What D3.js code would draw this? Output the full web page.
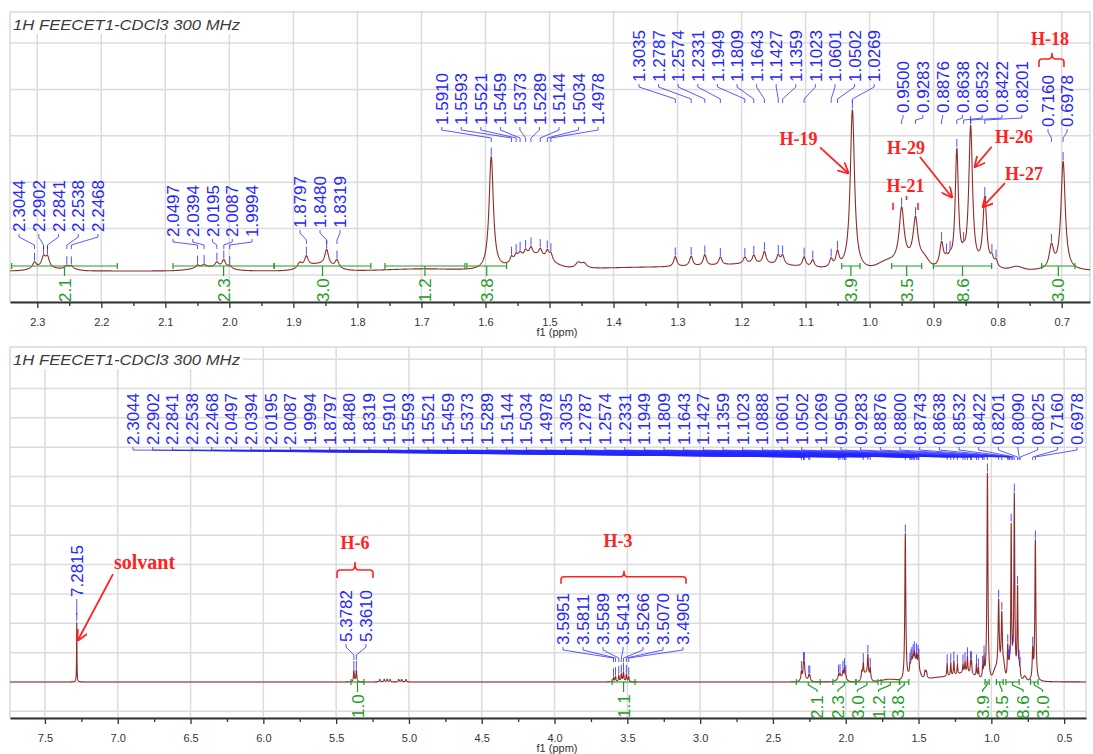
<!DOCTYPE html>
<html><head><meta charset="utf-8">
<script src="https://cdn.jsdelivr.net/npm/d3@7"></script>
<style>body{margin:0;background:#fff}svg{display:block}</style>
</head><body>
<svg id="c" width="1093" height="754"></svg>
<script>
// ---------------- DATA ----------------
const peakPpm = [2.3044,2.2902,2.2841,2.2538,2.2468,2.0497,2.0394,2.0195,2.0087,1.9994,1.8900,1.8797,1.8480,1.8319,
  1.5910,1.5593,1.5521,1.5459,1.5373,1.5289,1.5144,1.5034,1.4978,1.4550,1.4460,
  1.3035,1.2787,1.2574,1.2331,1.1949,1.1809,1.1643,1.1427,1.1359,1.1023,1.0888,1.0601,1.0502,1.0269,
  0.9500,0.9283,0.8876,0.8800,0.8743,0.8638,0.8532,0.8422,0.8201,0.8090,0.8025,0.7160,0.6978,
  7.2815,5.3782,5.3610,5.2000,5.1700,5.1500,5.1300,5.0700,5.0500,5.0200,
  3.5951,3.5811,3.5589,3.5413,3.5266,3.5070,3.4905];
const peakHeight = [3.7,6.2,6.2,1.9,1.9,1.9,1.9,3.1,4.9,1.9,3.4,6.2,9.6,4.9,
  70,3.6,3.6,3.6,3.6,4.6,4.3,4.8,4.3,3.5,3.0,
  6.2,6.2,6.8,4.9,4.0,5.0,7.5,5.5,5.5,6.0,4.5,5.0,9.0,99,
  33,27,15,4,4,72,4,87,43,5,4,14,67,
  28.6,5.5,5.5,1.2,1.2,1.2,1.2,1.2,1.2,1.2,
  2.0,2.5,3.0,3.5,4.5,3.5,2.5];
const peakWidth = [0.007,0.007,0.007,0.007,0.007,0.007,0.007,0.007,0.007,0.007,0.008,0.007,0.007,0.007,
  0.008,0.006,0.006,0.006,0.006,0.006,0.006,0.006,0.006,0.01,0.01,
  0.006,0.006,0.006,0.006,0.006,0.006,0.006,0.006,0.006,0.006,0.006,0.006,0.006,0.008,
  0.009,0.009,0.007,0.006,0.006,0.006,0.006,0.007,0.007,0.006,0.006,0.008,0.008,
  0.003,0.007,0.007,0.008,0.008,0.008,0.008,0.008,0.008,0.008,
  0.007,0.007,0.007,0.007,0.007,0.007,0.007];
// broad humps under the multiplets
const humpPpm    = [2.29,2.25,2.03,1.86,1.70,1.525,1.33,1.17,0.975,0.94,0.915,0.77];
const humpHeight = [2.0,1.0,2.2,4.0,1.2,9.0,2.3,3.5,3.5,5.0,4.0,2.0];
const humpWidth  = [0.04,0.03,0.06,0.05,0.12,0.06,0.25,0.14,0.03,0.05,0.015,0.02];

// peak labels
const topLabelGroups = [
  [2.3044,2.2902,2.2841,2.2538,2.2468],
  [2.0497,2.0394,2.0195,2.0087,1.9994],
  [1.8797,1.8480,1.8319],
  [1.5910,1.5593,1.5521,1.5459,1.5373,1.5289,1.5144,1.5034,1.4978],
  [1.3035,1.2787,1.2574,1.2331,1.1949,1.1809,1.1643,1.1427,1.1359,1.1023,1.0601,1.0502,1.0269],
  [0.9500,0.9283,0.8876,0.8638,0.8532,0.8422,0.8201],
  [0.7160,0.6978]
];
const bottomLabels = [2.3044,2.2902,2.2841,2.2538,2.2468,2.0497,2.0394,2.0195,2.0087,1.9994,1.8797,1.8480,1.8319,
  1.5910,1.5593,1.5521,1.5459,1.5373,1.5289,1.5144,1.5034,1.4978,1.3035,1.2787,1.2574,1.2331,1.1949,1.1809,
  1.1643,1.1427,1.1359,1.1023,1.0888,1.0601,1.0502,1.0269,0.9500,0.9283,0.8876,0.8800,0.8743,0.8638,0.8532,
  0.8422,0.8201,0.8090,0.8025,0.7160,0.6978];
const solventLabels = [7.2815];
const h6Labels = [5.3782,5.3610];
const h3Labels = [3.5951,3.5811,3.5589,3.5413,3.5266,3.5070,3.4905];

// integrals
const integFrom  = [2.340,2.088,1.930,1.757,1.629,1.0436,0.9656,0.9004,0.7313];
const integTo    = [2.175,1.930,1.779,1.632,1.567,1.0150,0.9187,0.8094,0.6792];
const integValue = ["2.1","2.3","3.0","1.2","3.8","3.9","3.5","8.6","3.0"];
const integExtraFrom  = [5.398,3.605];
const integExtraTo    = [5.309,3.447];
const integExtraValue = ["1.0","1.1"];

// axis ticks
const topMajor = [2.3,2.2,2.1,2.0,1.9,1.8,1.7,1.6,1.5,1.4,1.3,1.2,1.1,1.0,0.9,0.8,0.7];
const topMinor = [2.25,2.15,2.05,1.95,1.85,1.75,1.65,1.55,1.45,1.35,1.25,1.15,1.05,0.95,0.85,0.75,0.65];
const botMajor = [7.5,7.0,6.5,6.0,5.5,5.0,4.5,4.0,3.5,3.0,2.5,2.0,1.5,1.0,0.5];
const botMinor = [7.25,6.75,6.25,5.75,5.25,4.75,4.25,3.75,3.25,2.75,2.25,1.75,1.25,0.75];
const titleText = "1H FEECET1-CDCl3 300 MHz";

// ---------------- DRAWING ----------------
const svg = d3.select("#c");
const RED="#ff2222", BLUE="#2626ff", GREEN="#239b23", BROWN="#8e2b2b";
const FONT="'Liberation Sans', Arial, sans-serif";
const SERIF="'Liberation Serif', 'Times New Roman', serif";

function spec(x){
  let s=0;
  for(let i=0;i<peakPpm.length;i++){const d=(x-peakPpm[i])/(peakWidth[i]/2); s+=peakHeight[i]/(1+d*d);}
  for(let j=0;j<humpPpm.length;j++){const d=(x-humpPpm[j])/humpWidth[j]; s+=humpHeight[j]*Math.exp(-4*Math.LN2*d*d);}
  return s;
}
const grid = d3.range(0.30,7.80,0.0004).map(p=>[p,spec(p)]);

svg.append("defs").html(`<marker id="ah" viewBox="0 0 10 10" refX="9" refY="5" markerWidth="11" markerHeight="11" markerUnits="userSpaceOnUse" orient="auto"><path d="M0,0 L10,5 L0,10" fill="none" stroke="${RED}" stroke-width="1.6"/></marker>
<clipPath id="clipT"><rect x="10" y="12" width="1080" height="290"/></clipPath>
<clipPath id="clipB"><rect x="10" y="347" width="1076" height="371"/></clipPath>`);

function drawPanel(P){
  const g = svg.append("g");
  const x=P.x, y=P.y;
  g.selectAll(".vg").data(P.major).join("line")
    .attr("x1",d=>x(d)).attr("x2",d=>x(d)).attr("y1",P.top).attr("y2",P.axisY)
    .attr("stroke","#dcdcdc").attr("stroke-width",1.5);
  g.selectAll(".hg").data(P.hgrid).join("line")
    .attr("x1",P.left).attr("x2",P.right).attr("y1",d=>y(d)).attr("y2",d=>y(d))
    .attr("stroke","#dcdcdc").attr("stroke-width",1.5);
  g.append("rect").attr("x",P.left).attr("y",P.top).attr("width",P.right-P.left).attr("height",P.axisY-P.top)
    .attr("fill","none").attr("stroke","#cfcfcf").attr("stroke-width",1.2);
  g.append("rect").attr("x",P.left+1).attr("y",P.top+1).attr("width",232).attr("height",21).attr("fill","#fff");
  g.append("text").attr("x",P.left+3).attr("y",P.top+18).text(titleText)
    .attr("font-family",FONT).attr("font-style","italic").attr("font-size",15.5)
    .attr("fill","#3a3a3a").attr("textLength",227).attr("lengthAdjust","spacingAndGlyphs");
  const pts = grid.filter(d=>d[0]>=P.x.domain()[1]-0.02 && d[0]<=P.x.domain()[0]+0.02);
  g.append("path").attr("clip-path",P.clip).datum(pts)
    .attr("d",d3.line().x(d=>x(d[0])).y(d=>y(d[1])))
    .attr("fill","none").attr("stroke",BROWN).attr("stroke-width",1.1);
  const ax = g.append("g").attr("transform",`translate(0,${P.axisY})`)
    .call(d3.axisBottom(x).tickValues(P.major).tickSize(6).tickSizeOuter(0).tickPadding(10).tickFormat(d3.format(".1f")));
  ax.select(".domain").attr("stroke","#333").attr("stroke-width",2);
  ax.selectAll(".tick line").attr("stroke","#333").attr("stroke-width",1.3);
  ax.selectAll("text").attr("font-family",FONT).attr("font-size",11).attr("fill","#333");
  const mx = g.append("g").attr("transform",`translate(0,${P.axisY})`)
    .call(d3.axisBottom(x).tickValues(P.minor.filter(v=>v<=x.domain()[0]&&v>=x.domain()[1])).tickSize(4).tickSizeOuter(0).tickFormat(""));
  mx.select(".domain").remove();
  mx.selectAll(".tick line").attr("stroke","#333").attr("stroke-width",1.3);
  g.append("text").attr("x",557).attr("y",P.axisY+34).attr("text-anchor","middle").text("f1 (ppm)")
    .attr("font-family",FONT).attr("font-size",11).attr("fill","#333");
  return g;
}

function vtext(g, xp, yb, txt, color, size){
  return g.append("text").attr("transform",`translate(${xp},${yb}) rotate(-90)`).attr("dy","0.36em")
    .attr("font-family",FONT).attr("font-size",size||17).attr("fill",color).text(txt);
}

function labelGroup(g, P, vals, L){
  const f = d3.format(".4f");
  vals.forEach((v,i)=>{
    const lx = L.x0 + i*L.dx, px = P.x(v), tb = L.tb;
    vtext(g, lx, tb, f(v), BLUE, 17);
    g.append("path").attr("d",`M${lx},${tb+2} V${tb+5} L${px},${tb+L.drop} V${tb+L.drop+(L.tail||4)}`)
      .attr("fill","none").attr("stroke",BLUE).attr("stroke-width",0.9).attr("opacity",0.85);
  });
}
function peakTicks(g, P, vals){
  vals.forEach(v=>{
    if(v>P.x.domain()[0]||v<P.x.domain()[1]) return;
    const yt = P.y(spec(v));
    g.append("line").attr("x1",P.x(v)).attr("x2",P.x(v)).attr("y1",yt-9).attr("y2",yt-1)
      .attr("stroke",BLUE).attr("stroke-width",1).attr("opacity",0.8);
  });
}
function integrals(g, P, from, to, vals, barY, labelXs, textBottom){
  from.forEach((a,i)=>{
    const x1=P.x(a), x2=P.x(to[i]), cx=(x1+x2)/2, lx = labelXs? labelXs[i] : cx;
    g.append("path").attr("d",`M${x1},${barY-3} V${barY+3} M${x1},${barY} H${x2} M${x2},${barY-3} V${barY+3}`)
      .attr("fill","none").attr("stroke",GREEN).attr("stroke-width",1.2);
    g.append("path").attr("d",`M${cx},${barY} V${barY+3} L${lx},${barY+8} V${barY+10}`)
      .attr("fill","none").attr("stroke",GREEN).attr("stroke-width",1.2);
    vtext(g, lx, textBottom, vals[i], GREEN, 17);
  });
}
function arrow(g, x1,y1,x2,y2){
  g.append("line").attr("x1",x1).attr("y1",y1).attr("x2",x2).attr("y2",y2)
   .attr("stroke",RED).attr("stroke-width",1.8).attr("marker-end","url(#ah)");
}
function redText(g, xp, yp, txt, anchor, size){
  g.append("text").attr("x",xp).attr("y",yp).attr("text-anchor",anchor||"middle").text(txt)
   .attr("font-family",SERIF).attr("font-weight","bold").attr("font-size",size||18).attr("fill",RED);
}
function bracket(g, x1, x2, yb, down, xc, up){
  g.append("path").attr("d",
   `M${x1},${yb+down} V${yb+3} Q${x1},${yb} ${x1+3},${yb} H${xc-3} Q${xc},${yb} ${xc},${yb-up} Q${xc},${yb} ${xc+3},${yb} H${x2-3} Q${x2},${yb} ${x2},${yb+3} V${yb+down}`)
   .attr("fill","none").attr("stroke",RED).attr("stroke-width",1.6);
}

// ---------- TOP PANEL ----------
const T = {
  x: d3.scaleLinear().domain([2.3426,0.6558]).range([10,1090]),
  y: d3.scaleLinear().domain([0,100]).range([271,109]),
  left:10, right:1090, top:12, axisY:302, clip:"url(#clipT)",
  major: topMajor, minor: topMinor
};
T.hgrid = d3.range(0,6).map(k=>-2.47+k*28.64);
const gT = drawPanel(T);
const topLayout = [
  {x0:19,  dx:19.75, tb:232, drop:13},
  {x0:173, dx:19.75, tb:237, drop:8},
  {x0:300, dx:20,    tb:228, drop:12},
  {x0:441.7,dx:19.55,tb:125, drop:13},
  {x0:639, dx:19.6,  tb:82,  drop:17},
  {x0:903, dx:19.8,  tb:113, drop:7},
  {x0:1048,dx:19,    tb:127, drop:11}
];
topLabelGroups.forEach((grp,i)=>labelGroup(gT, T, grp, topLayout[i]));
peakTicks(gT, T, bottomLabels);
integrals(gT, T, integFrom, integTo, integValue, 266, null, 302);

const tx=T.x, ty=T.y;
redText(gT, tx(1.1111), ty(77.8), "H-19");
arrow(gT, tx(1.0775), ty(76.3), tx(1.0337), ty(60.5));
redText(gT, tx(0.9432), ty(72.2), "H-29");
arrow(gT, tx(0.9213), ty(70.4), tx(0.8718), ty(45.7));
redText(gT, tx(0.9440), ty(48.5), "H-21");
[[0.9634,42.2,37.7],[0.9244,42.2,37.7],[0.9424,46.3,43.8]].forEach(d=>
  gT.append("line").attr("x1",tx(d[0])).attr("x2",tx(d[0])).attr("y1",ty(d[1])).attr("y2",ty(d[2])).attr("stroke",RED).attr("stroke-width",1.6));
redText(gT, tx(0.7745), ty(79), "H-26");
arrow(gT, tx(0.8093), ty(76.7), tx(0.8354), ty(64.4));
redText(gT, tx(0.7589), ty(56.2), "H-27");
arrow(gT, tx(0.7886), ty(54.3), tx(0.8229), ty(39.7));
redText(gT, tx(0.7183), ty(139.5), "H-18");
bracket(gT, tx(0.7355), tx(0.6965), ty(130.9), 8, tx(0.7152), 6);

// ---------- BOTTOM PANEL ----------
const B = {
  x: d3.scaleLinear().domain([7.74,0.35]).range([10,1086]),
  y: d3.scaleLinear().domain([0,100]).range([682,472]),
  left:10, right:1086, top:347, axisY:718, clip:"url(#clipB)",
  major: botMajor, minor: botMinor
};
B.hgrid = d3.range(-1,12).map(k=>k*13.976);
const gB = drawPanel(B);
labelGroup(gB, B, bottomLabels, {x0:133, dx:19.667, tb:445, drop:12, tail:3});
labelGroup(gB, B, solventLabels, {x0:B.x(7.2815), dx:0, tb:597, drop:16, tail:2});
labelGroup(gB, B, h6Labels, {x0:346, dx:20, tb:642, drop:13, tail:5});
labelGroup(gB, B, h3Labels, {x0:563, dx:20, tb:645, drop:13, tail:4});
peakTicks(gB, B, bottomLabels.concat(solventLabels, h6Labels, h3Labels));
integrals(gB, B, integExtraFrom, integExtraTo, integExtraValue, 682, null, 718);
integrals(gB, B, integFrom, integTo, integValue, 682, [817,838,857.5,878.6,898,982.7,1002,1023,1042.6], 719);

const bx=B.x, by=B.y;
redText(gB, bx(7.0257), by(53.8), "solvant", "start", 20);
arrow(gB, bx(7.0326), by(51.4), bx(7.273), by(20));
redText(gB, bx(5.3705), by(63.3), "H-6");
bracket(gB, bx(5.494), bx(5.247), by(53.3), 8, bx(5.3705), 8);
redText(gB, bx(3.5641), by(64.3), "H-3");
bracket(gB, bx(3.9556), bx(3.0971), by(50.1), 7, bx(3.523), 6);
</script>
</body></html>
